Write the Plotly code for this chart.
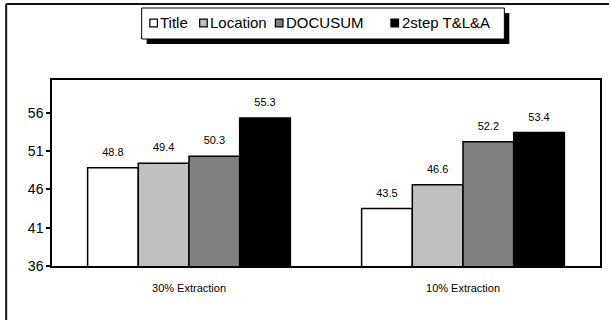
import plotly.graph_objects as go

# ---- data -------------------------------------------------------------
categories = ["30% Extraction", "10% Extraction"]
series_names = ["Title", "Location", "DOCUSUM", "2step T&L&A"]
title_scores = [48.8, 43.5]
location_scores = [49.4, 46.6]
docusum_scores = [50.3, 52.2]
two_step_scores = [55.3, 53.4]
y_ticks = [36, 41, 46, 51, 56]

series_values = [title_scores, location_scores, docusum_scores, two_step_scores]
series_fills = ["#ffffff", "#c0c0c0", "#808080", "#000000"]

# ---- page geometry (pixels) ------------------------------------------
W, H = 611, 321
PL, PR, PT, PB = 52, 602, 80, 266
FONT = "Liberation Sans, Arial, Helvetica, sans-serif"


def px(x):
    """pixel column -> paper x"""
    return (x - PL) / (PR - PL)


def py(y):
    """pixel row -> paper y"""
    return (PB - y) / (PB - PT)


fig = go.Figure()

# bars
for name, vals, fill in zip(series_names, series_values, series_fills):
    fig.add_trace(go.Bar(
        x=categories, y=vals, name=name,
        marker=dict(color=fill, line=dict(color="#000000", width=1.5)),
        showlegend=False, hoverinfo="skip",
    ))

# value labels, grouped the same way as the bars
for name, vals in zip(series_names, series_values):
    fig.add_trace(go.Scatter(
        x=categories, y=vals, name=name,
        mode="markers+text",
        text=[f"{v:.1f}" for v in vals],
        textposition="top center",
        textfont=dict(family=FONT, size=11, color="#000000"),
        marker=dict(size=13, color="rgba(0,0,0,0)"),
        showlegend=False, hoverinfo="skip", cliponaxis=False,
    ))

# ---- hand-drawn legend with drop shadow and outer frame -------------
shapes = [
    # outer frame (left and top edges)
    dict(type="line", xref="paper", yref="paper",
         x0=px(6), x1=px(6), y0=py(4), y1=py(320),
         line=dict(color="#111111", width=2)),
    dict(type="line", xref="paper", yref="paper",
         x0=px(6), x1=px(611), y0=py(4), y1=py(4),
         line=dict(color="#111111", width=2)),
    # legend shadow
    dict(type="rect", xref="paper", yref="paper",
         x0=px(147), x1=px(511), y0=py(13), y1=py(44),
         fillcolor="#000000", line=dict(width=0)),
    # legend box
    dict(type="rect", xref="paper", yref="paper",
         x0=px(142), x1=px(506), y0=py(8), y1=py(39),
         fillcolor="#ffffff", line=dict(color="#000000", width=1)),
]

legend_square_cx = [154, 204, 280, 396]
legend_y = 23
sq = 3.8
annotations = []
for name, fill, cx in zip(series_names, series_fills, legend_square_cx):
    shapes.append(dict(
        type="rect", xref="paper", yref="paper",
        x0=px(cx - sq), x1=px(cx + sq), y0=py(legend_y + sq), y1=py(legend_y - sq),
        fillcolor=fill, line=dict(color="#000000", width=1.2)))
    annotations.append(dict(
        text=name, xref="paper", yref="paper",
        x=px(cx + sq + 1.0), y=py(legend_y - 0.5),
        xanchor="left", yanchor="middle", showarrow=False,
        font=dict(family=FONT, size=15, color="#000000")))

fig.update_layout(
    width=W, height=H,
    margin=dict(l=PL, r=W - PR, t=PT, b=H - PB, pad=0),
    paper_bgcolor="#ffffff", plot_bgcolor="#ffffff",
    barmode="group", bargap=0.26, bargroupgap=0,
    scattermode="group", scattergap=0.26,
    font=dict(family=FONT, color="#000000"),
    shapes=shapes, annotations=annotations,
    showlegend=False,
)

fig.update_xaxes(
    showline=True, linecolor="#000000", linewidth=1.5, mirror=True,
    ticks="", showgrid=False, zeroline=False,
    tickfont=dict(family=FONT, size=11, color="#000000"),
    ticklabelstandoff=11,
)
fig.update_yaxes(
    range=[36, 60.25], tickvals=y_ticks,
    showline=True, linecolor="#000000", linewidth=1.5, mirror=True,
    ticks="outside", ticklen=4, tickwidth=1.5, tickcolor="#000000",
    showgrid=False, zeroline=False,
    tickfont=dict(family=FONT, size=14, color="#000000"),
    ticklabelstandoff=0,
)

# keep the page exactly the size of the figure (no scrollbars)
page_fit = (
    "document.documentElement.style.overflow='hidden';"
    "document.body.style.overflow='hidden';"
    "document.body.style.margin='0';"
)
fig.write_html("out.html", config={"displayModeBar": False}, post_script=page_fit)
